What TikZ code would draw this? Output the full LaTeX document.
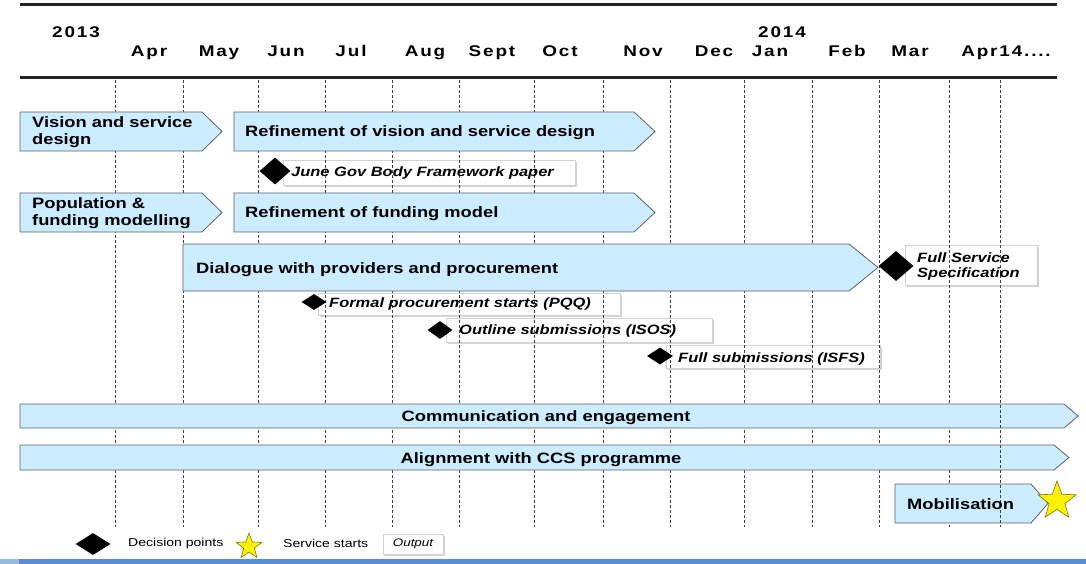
\documentclass[tikz,border=0pt]{standalone}
\usepackage{fontspec}
\setmainfont{Liberation Sans}[FakeStretch=1.22]
\usetikzlibrary{shapes.geometric,shadows}
\definecolor{barblue}{RGB}{204,236,255}
\definecolor{bardraw}{RGB}{96,96,96}
\definecolor{footblue}{RGB}{85,142,213}
\definecolor{footlight}{RGB}{150,185,228}
\definecolor{starline}{RGB}{120,120,20}
\newcommand\chevbar[5]{\draw[bar] (#1,#2) -- (#3,#2) -- (#4,{(#2+#5)/2}) -- (#3,#5) -- (#1,#5) -- cycle;}
\begin{document}
\begin{tikzpicture}[x=1pt,y=-1pt,
  bar/.style={fill=barblue,draw=bardraw,line width=0.8pt},
  bartext/.style={font=\fontsize{15}{16.7}\selectfont\bfseries,inner sep=0,anchor=base west,align=left},
  month/.style={font=\fontsize{15.5}{17}\selectfont\bfseries\addfontfeature{LetterSpace=12},inner sep=0,anchor=base},
  outbox/.style={fill=white,draw=gray!35,line width=0.4pt,drop shadow={shadow xshift=1.5pt,shadow yshift=-2pt,opacity=0.35}},
  outtext/.style={font=\fontsize{13.5}{15}\selectfont\bfseries\itshape,inner sep=0,anchor=base west,align=left},
  decision/.style={diamond,fill=black,inner sep=0},
  gridline/.style={draw=black!75,line width=0.7pt,dash pattern=on 3pt off 2pt},
  rulebar/.style={line width=3pt,draw=black!85},
  legendtext/.style={font=\fontsize{11.5}{13}\selectfont,inner sep=0,anchor=west},
  startstar/.style={star,star points=5,star point ratio=2.4,fill=yellow,draw=starline,line width=0.6pt,inner sep=0}
]
\useasboundingbox (0,0) rectangle (1086,564);

% output boxes
\draw[outbox] (283,160) rectangle (575,185);
\draw[outbox] (905,245) rectangle (1037,285);
\draw[outbox] (318,293) rectangle (620,315);
\draw[outbox] (446,318) rectangle (712,342);
\draw[outbox] (666,345) rectangle (880,368);

% grid lines
\foreach \gx in {115,183,258,325,392,459,534,603,670,744,812,879,949,1000}
  \draw[gridline] (\gx,80) -- (\gx,527);

% bars
\chevbar{20}{112}{202}{222}{151}
\chevbar{234}{112}{634}{655}{151}
\chevbar{20}{193}{202}{222}{232}
\chevbar{234}{193}{634}{655}{232}
\chevbar{183}{244}{849}{878}{291}
\chevbar{20}{404}{1064}{1078}{428}
\chevbar{20}{445}{1054}{1069}{470}
\chevbar{895}{484}{1031}{1048}{523}
\draw[gridline] (1000,400) -- (1000,527);

% rules
\draw[rulebar] (20,5) -- (1057,5);
\draw[rulebar] (20,78) -- (1057,78);

% header
\node[month] (y2013) at (76,37.7) {2013};
\node[month] (y2014) at (782,37.3) {2014};
\node[month] (mapr) at (149,56.7) {Apr};
\node[month] (mmay) at (219,56.7) {May};
\node[month] (mjun) at (286,56.7) {Jun};
\node[month] (mjul) at (351,56.7) {Jul};
\node[month] (maug) at (425,56.7) {Aug};
\node[month] (msep) at (492,56.7) {Sept};
\node[month] (moct) at (560,56.7) {Oct};
\node[month] (mnov) at (643,56.7) {Nov};
\node[month] (mdec) at (714,56.7) {Dec};
\node[month] (mjan) at (770,56.7) {Jan};
\node[month] (mfeb) at (847,56.7) {Feb};
\node[month] (mmar) at (910,56.7) {Mar};
\node[month] (mapr14) at (1006,56.7) {Apr14....};

% bar texts
\node[bartext] (vision) at (32,144.5) {Vision and service\\design};
\node[bartext] (refvis) at (245,137) {Refinement of vision and service design};
\node[bartext] (popfund) at (32,225.5) {Population \&\\funding modelling};
\node[bartext] (reffund) at (245,217) {Refinement of funding model};
\node[bartext] (dialogue) at (196,273.5) {Dialogue with providers and procurement};
\node[bartext,anchor=base] (comm) at (546,421.5) {Communication and engagement};
\node[bartext,anchor=base] (alignccs) at (541,463) {Alignment with CCS programme};
\node[bartext] (mobil) at (907,509.5) {Mobilisation};

% output texts
\node[outtext] (june) at (291,177) {June Gov Body Framework paper};
\node[outtext] (fullspec) at (917,277) {Full Service\\Specification};
\node[outtext] (pqq) at (329,307) {Formal procurement starts (PQQ)};
\node[outtext] (isos) at (459,334.5) {Outline submissions (ISOS)};
\node[outtext] (isfs) at (678,362) {Full submissions (ISFS)};

% decision points
\node[decision,minimum width=31,minimum height=27] (djune) at (275,171) {};
\node[decision,minimum width=35,minimum height=30] (dfull) at (896,266) {};
\node[decision,minimum width=25,minimum height=16] (dpqq) at (314,302) {};
\node[decision,minimum width=25,minimum height=18] (disos) at (440,330) {};
\node[decision,minimum width=26,minimum height=17] (disfs) at (660,356) {};

% service start
\node[startstar,minimum size=40] (smob) at (1057,501) {};

% legend
\node[decision,minimum width=35,minimum height=22] (legdec) at (93,544) {};
\node[legendtext] (legdectext) at (128,544) {Decision points};
\node[startstar,minimum size=27] (legstar) at (249,546.5) {};
\node[legendtext] (legstartext) at (283,543) {Service starts};
\draw[outbox] (383,534) rectangle (443,554);
\node[font=\fontsize{11}{13}\selectfont\itshape,inner sep=0] (legout) at (413,544) {Output};

% footer
\fill[footlight] (0,559) rectangle (19,564);
\fill[footblue] (19,559) rectangle (1086,564);
\end{tikzpicture}
\end{document}
